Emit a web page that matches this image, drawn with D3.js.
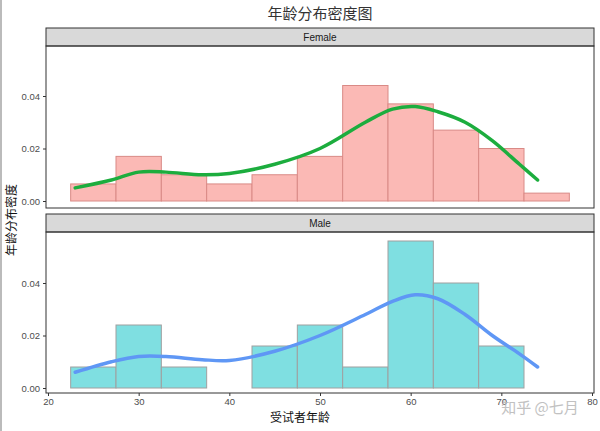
<!DOCTYPE html>
<html><head><meta charset="utf-8">
<script src="https://cdn.jsdelivr.net/npm/d3@7"></script>
<style>body{margin:0;background:#fff}text{font-family:"Liberation Sans",Arial,sans-serif}</style>
</head><body><svg id="c" width="600" height="431"></svg>
<script>
var binStarts = [22.5,27.5,32.5,37.5,42.5,47.5,52.5,57.5,62.5,67.5,72.5];
var femaleDensity = [0.0065,0.017,0.010,0.0065,0.010,0.017,0.044,0.037,0.027,0.020,0.003];
var maleDensity = [0.008,0.024,0.008,0,0.016,0.024,0.008,0.056,0.040,0.016,0];
var curveAges = [23,27,30,33,37,40,45,50,55,58,60.5,63,66,69,72,74];
var femaleCurve = [0.005,0.008,0.011,0.011,0.010,0.0105,0.014,0.020,0.030,0.035,0.036,0.034,0.030,0.023,0.014,0.008];
var maleCurve = [0.006,0.010,0.012,0.012,0.0108,0.0105,0.014,0.020,0.028,0.033,0.0355,0.034,0.028,0.020,0.013,0.008];
var xTicks = [20,30,40,50,60,70,80];
var yTicks = [0,0.02,0.04];

var svg = d3.select("#c");
var left = 46, right = 594;
var x = d3.scaleLinear().domain([20,80]).range([48,592]);

svg.append("line").attr("x1",1).attr("x2",1).attr("y1",0).attr("y2",431).attr("stroke","#bbb").attr("stroke-width",2);

svg.append("text").attr("x",320).attr("y",19).attr("text-anchor","middle")
  .style("font-family","'Noto Sans CJK SC'").style("font-size","15px").attr("fill","#333").text("年龄分布密度图");

var panels = [
  {name:"Female", vals:femaleDensity, curve:femaleCurve, stripTop:28, top:46, bottom:208, zero:201, fill:"#fbb9b5", stroke:"#d98a86", line:"#1cad3e"},
  {name:"Male", vals:maleDensity, curve:maleCurve, stripTop:214, top:232, bottom:393, zero:388, fill:"#7fdfe1", stroke:"#a0a0a0", line:"#5f97f5"}
];

panels.forEach(function(p){
  var y = d3.scaleLinear().domain([0,0.04]).range([p.zero,p.zero-105]);
  svg.append("rect").attr("x",left).attr("y",p.stripTop).attr("width",right-left).attr("height",p.top-p.stripTop)
    .attr("fill","#d9d9d9").attr("stroke","#333").attr("stroke-width",1);
  svg.append("text").attr("x",(left+right)/2).attr("y",(p.stripTop+p.top)/2+4).attr("text-anchor","middle")
    .style("font-size","10px").attr("fill","#1a1a1a").text(p.name);
  var g = svg.append("g");
  g.selectAll("rect.bar").data(p.vals).enter().append("rect")
    .attr("x",function(d,i){return x(binStarts[i]);})
    .attr("width",function(d,i){return x(binStarts[i]+5)-x(binStarts[i]);})
    .attr("y",function(d){return y(d);})
    .attr("height",function(d){return p.zero-y(d);})
    .attr("fill",p.fill).attr("stroke",p.stroke).attr("stroke-width",1);
  g.append("path").datum(p.curve)
    .attr("d",d3.line().x(function(d,i){return x(curveAges[i]);}).y(function(d){return y(d);}).curve(d3.curveCatmullRom))
    .attr("fill","none").attr("stroke",p.line).attr("stroke-width",3.5).attr("stroke-linecap","round");
  svg.append("rect").attr("x",left).attr("y",p.top).attr("width",right-left).attr("height",p.bottom-p.top)
    .attr("fill","none").attr("stroke","#333").attr("stroke-width",1);
  var ya = svg.append("g").attr("transform","translate("+left+",0)")
    .call(d3.axisLeft(y).tickValues(yTicks).tickFormat(d3.format(".2f")).tickSize(3).tickPadding(3));
  ya.select(".domain").remove();
  ya.selectAll("line").attr("stroke","#333");
  ya.selectAll("text").style("font-size","9.5px").attr("fill","#4d4d4d");
});

var xa = svg.append("g").attr("transform","translate(0,393)")
  .call(d3.axisBottom(x).tickValues(xTicks).tickSize(3).tickPadding(2));
xa.select(".domain").remove();
xa.selectAll("line").attr("stroke","#333");
xa.selectAll("text").style("font-size","9.5px").attr("fill","#4d4d4d");

svg.append("text").attr("x",300).attr("y",422).attr("text-anchor","middle")
  .style("font-family","'Noto Sans CJK SC'").style("font-size","12px").attr("fill","#111").text("受试者年龄");
svg.append("text").attr("transform","translate(16,220) rotate(-90)").attr("text-anchor","middle")
  .style("font-family","'Noto Sans CJK SC'").style("font-size","12px").attr("fill","#111").text("年龄分布密度");
svg.append("text").attr("x",540).attr("y",413).attr("text-anchor","middle")
  .style("font-family","'Noto Sans CJK SC'").style("font-size","15px").attr("fill","#bbb").attr("opacity",0.9).text("知乎 @七月");
</script></body></html>
